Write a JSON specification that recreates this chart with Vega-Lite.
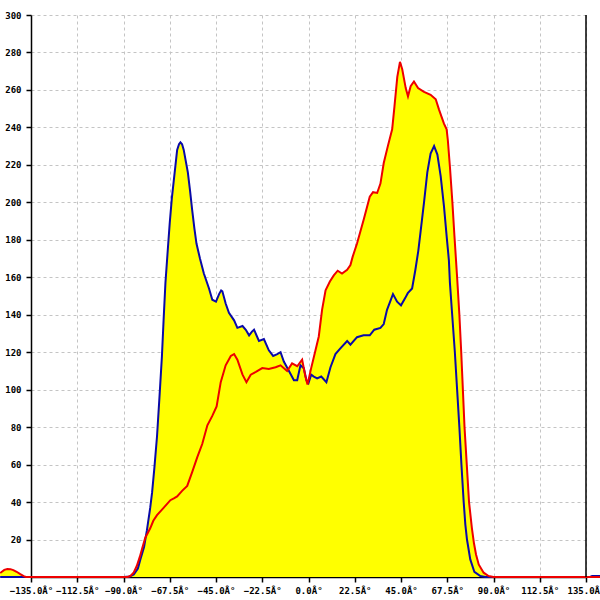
{
  "$schema": "https://vega.github.io/schema/vega-lite/v6.json",
  "width": 555,
  "height": 562,
  "autosize": {"type": "none"},
  "padding": {"left": 31, "top": 15, "right": 14, "bottom": 23},
  "background": "white",
  "config": {
    "view": {"stroke": null},
    "axis": {
      "labelFont": "DejaVu Sans Mono",
      "labelFontSize": 9,
      "labelFontWeight": "bold",
      "labelColor": "black",
      "domainColor": "black",
      "domainWidth": 1.5,
      "tickColor": "black",
      "tickWidth": 1.5,
      "tickSize": 5,
      "gridColor": "#c4c4c4",
      "gridDash": [3, 3],
      "gridWidth": 1,
      "title": null
    }
  },
  "datasets": {
    "blue": [
      {"deg": -150, "count": 0}, {"deg": -90, "count": 0}, {"deg": -87, "count": 0.3},
      {"deg": -85, "count": 1.4}, {"deg": -83, "count": 4.5}, {"deg": -81.8, "count": 9.4},
      {"deg": -80, "count": 16}, {"deg": -78.6, "count": 25}, {"deg": -77, "count": 37},
      {"deg": -76.1, "count": 45}, {"deg": -75, "count": 58}, {"deg": -73.7, "count": 75},
      {"deg": -72.5, "count": 96}, {"deg": -71.3, "count": 118}, {"deg": -70.5, "count": 137},
      {"deg": -69.6, "count": 157}, {"deg": -68.5, "count": 174}, {"deg": -67.5, "count": 189},
      {"deg": -66.5, "count": 202}, {"deg": -65.5, "count": 212}, {"deg": -64.5, "count": 222},
      {"deg": -63.9, "count": 228}, {"deg": -63, "count": 231}, {"deg": -62.3, "count": 232},
      {"deg": -61.5, "count": 231}, {"deg": -60.7, "count": 228}, {"deg": -59.7, "count": 222},
      {"deg": -58.7, "count": 216}, {"deg": -57.6, "count": 206}, {"deg": -56.6, "count": 196},
      {"deg": -55.5, "count": 186}, {"deg": -54.5, "count": 178}, {"deg": -52.8, "count": 170},
      {"deg": -50.9, "count": 162}, {"deg": -48.4, "count": 154}, {"deg": -46.8, "count": 148},
      {"deg": -45, "count": 147}, {"deg": -43.5, "count": 151}, {"deg": -42.5, "count": 153},
      {"deg": -41.9, "count": 152.5}, {"deg": -40.3, "count": 146}, {"deg": -38.7, "count": 141},
      {"deg": -36.2, "count": 137}, {"deg": -34.6, "count": 133}, {"deg": -32.1, "count": 134},
      {"deg": -30.5, "count": 132}, {"deg": -28.9, "count": 129}, {"deg": -27.5, "count": 131},
      {"deg": -26.5, "count": 132}, {"deg": -24.1, "count": 126}, {"deg": -21.7, "count": 127},
      {"deg": -19.3, "count": 121}, {"deg": -17.2, "count": 118}, {"deg": -15.2, "count": 119},
      {"deg": -13.6, "count": 120}, {"deg": -12, "count": 115}, {"deg": -9.5, "count": 110},
      {"deg": -7.1, "count": 105}, {"deg": -5.5, "count": 105}, {"deg": -3.9, "count": 113},
      {"deg": -2.3, "count": 111.5}, {"deg": -1, "count": 105}, {"deg": 0, "count": 103.5},
      {"deg": 1.3, "count": 108}, {"deg": 2.6, "count": 107}, {"deg": 4.2, "count": 106},
      {"deg": 6.2, "count": 107}, {"deg": 8.7, "count": 104}, {"deg": 10.7, "count": 112},
      {"deg": 13.1, "count": 119}, {"deg": 15.5, "count": 122}, {"deg": 18.8, "count": 126},
      {"deg": 20.4, "count": 124}, {"deg": 23.6, "count": 128}, {"deg": 26.8, "count": 129},
      {"deg": 29.8, "count": 129}, {"deg": 32, "count": 132}, {"deg": 35, "count": 133},
      {"deg": 36.6, "count": 135}, {"deg": 38.2, "count": 142.6}, {"deg": 41.1, "count": 151},
      {"deg": 43.1, "count": 147}, {"deg": 45, "count": 145}, {"deg": 47.1, "count": 149},
      {"deg": 48.3, "count": 151.5}, {"deg": 50.4, "count": 154}, {"deg": 52, "count": 164},
      {"deg": 53.4, "count": 174}, {"deg": 54.6, "count": 185}, {"deg": 56.2, "count": 200},
      {"deg": 57.8, "count": 216}, {"deg": 59.4, "count": 226}, {"deg": 61.1, "count": 230},
      {"deg": 62.7, "count": 225.5}, {"deg": 64.3, "count": 214}, {"deg": 65.9, "count": 198},
      {"deg": 67.2, "count": 182}, {"deg": 68.3, "count": 169}, {"deg": 68.8, "count": 157},
      {"deg": 69.9, "count": 140}, {"deg": 71.2, "count": 120}, {"deg": 72.3, "count": 100},
      {"deg": 73.4, "count": 80}, {"deg": 74.4, "count": 60}, {"deg": 75.5, "count": 40},
      {"deg": 76.3, "count": 28}, {"deg": 77.1, "count": 20}, {"deg": 78.7, "count": 9.4},
      {"deg": 80.7, "count": 2.7}, {"deg": 83.6, "count": 0.5}, {"deg": 86, "count": 0},
      {"deg": 137, "count": 0}, {"deg": 138, "count": 0.6}, {"deg": 145, "count": 0.6}
    ],
    "red": [
      {"deg": -150, "count": 2.1}, {"deg": -148, "count": 3.8}, {"deg": -146.5, "count": 4.3},
      {"deg": -145, "count": 4.2}, {"deg": -143.6, "count": 3.7}, {"deg": -142, "count": 2.8},
      {"deg": -140.2, "count": 1.5}, {"deg": -138.5, "count": 0.5}, {"deg": -137.5, "count": 0},
      {"deg": -88, "count": 0}, {"deg": -86.7, "count": 0.5}, {"deg": -85, "count": 2.5},
      {"deg": -83.5, "count": 6}, {"deg": -82, "count": 11}, {"deg": -81, "count": 15},
      {"deg": -79.4, "count": 21}, {"deg": -77, "count": 26}, {"deg": -75.5, "count": 30},
      {"deg": -73.7, "count": 33}, {"deg": -70.4, "count": 37}, {"deg": -67.2, "count": 41},
      {"deg": -65.5, "count": 42}, {"deg": -63.9, "count": 43}, {"deg": -61.5, "count": 46},
      {"deg": -59, "count": 48.6}, {"deg": -56.6, "count": 56}, {"deg": -54.1, "count": 64},
      {"deg": -51.7, "count": 71}, {"deg": -49.2, "count": 81}, {"deg": -46.8, "count": 86},
      {"deg": -44.7, "count": 91}, {"deg": -42.7, "count": 104}, {"deg": -40.3, "count": 113},
      {"deg": -37.8, "count": 118}, {"deg": -36.2, "count": 119}, {"deg": -34.6, "count": 116},
      {"deg": -32.1, "count": 108}, {"deg": -30.2, "count": 104}, {"deg": -28.1, "count": 108},
      {"deg": -25.6, "count": 109.5}, {"deg": -22.5, "count": 111.5}, {"deg": -19.3, "count": 111},
      {"deg": -16, "count": 112}, {"deg": -13.6, "count": 113}, {"deg": -10.4, "count": 110},
      {"deg": -8, "count": 114}, {"deg": -5.5, "count": 112.5}, {"deg": -3.1, "count": 116},
      {"deg": -1.5, "count": 107}, {"deg": -0.5, "count": 102.7}, {"deg": 1.3, "count": 111.5},
      {"deg": 3.4, "count": 121}, {"deg": 5, "count": 128.4}, {"deg": 6.6, "count": 142.6},
      {"deg": 8.3, "count": 153}, {"deg": 10.4, "count": 157.7}, {"deg": 12.3, "count": 161},
      {"deg": 14.2, "count": 163.5}, {"deg": 16.3, "count": 162}, {"deg": 18.8, "count": 164},
      {"deg": 20.4, "count": 166.5}, {"deg": 21.5, "count": 171}, {"deg": 23.6, "count": 178},
      {"deg": 26.9, "count": 191}, {"deg": 29.8, "count": 203}, {"deg": 31.4, "count": 205.4},
      {"deg": 33.4, "count": 205}, {"deg": 35, "count": 210}, {"deg": 36.6, "count": 221},
      {"deg": 38.6, "count": 230}, {"deg": 40.7, "count": 239}, {"deg": 41.8, "count": 251},
      {"deg": 43.2, "count": 267}, {"deg": 44.5, "count": 275}, {"deg": 45.6, "count": 271},
      {"deg": 47.3, "count": 261}, {"deg": 48.4, "count": 256.6}, {"deg": 49.7, "count": 262},
      {"deg": 51.3, "count": 264.5}, {"deg": 53.3, "count": 261}, {"deg": 56.2, "count": 259},
      {"deg": 59.4, "count": 257.4}, {"deg": 61.9, "count": 255}, {"deg": 63.5, "count": 249.5},
      {"deg": 65.9, "count": 242}, {"deg": 67.2, "count": 239}, {"deg": 67.8, "count": 233},
      {"deg": 68.8, "count": 219}, {"deg": 70, "count": 200}, {"deg": 71, "count": 182},
      {"deg": 72.3, "count": 160}, {"deg": 73.4, "count": 140}, {"deg": 74.3, "count": 120},
      {"deg": 75.1, "count": 100}, {"deg": 75.9, "count": 80}, {"deg": 77, "count": 60},
      {"deg": 78.1, "count": 40}, {"deg": 79.5, "count": 26}, {"deg": 80.5, "count": 18},
      {"deg": 81.5, "count": 12}, {"deg": 82.8, "count": 6.7}, {"deg": 85.2, "count": 2.3},
      {"deg": 87.6, "count": 0.5}, {"deg": 90, "count": 0}, {"deg": 145, "count": 0}
    ]
  },
  "encoding": {
    "x": {
      "field": "deg",
      "type": "quantitative",
      "scale": {"domain": [-135, 135], "nice": false, "zero": false},
      "axis": {
        "values": [-135, -112.5, -90, -67.5, -45, -22.5, 0, 22.5, 45, 67.5, 90, 112.5, 135],
        "labelExpr": "format(datum.value, '.1f') + 'Â°'",
        "labelPadding": 4,
        "labelFlush": false,
        "labelOverlap": false
      }
    },
    "y": {
      "field": "count",
      "type": "quantitative",
      "scale": {"domain": [0, 300], "nice": false},
      "axis": {
        "values": [20, 40, 60, 80, 100, 120, 140, 160, 180, 200, 220, 240, 260, 280, 300],
        "labelPadding": 5,
        "labelFlush": false,
        "labelOverlap": false
      }
    }
  },
  "layer": [
    {
      "data": {"name": "blue"},
      "mark": {"type": "area", "color": "#ffff00", "clip": false}
    },
    {
      "data": {"name": "red"},
      "mark": {"type": "area", "color": "#ffff00", "clip": false}
    },
    {
      "data": {"name": "blue"},
      "mark": {"type": "line", "color": "#0a0aa8", "strokeWidth": 2, "clip": false}
    },
    {
      "data": {"name": "red"},
      "mark": {"type": "line", "color": "#ee0000", "strokeWidth": 2, "clip": false}
    },
    {
      "data": {"values": [{"deg": 135}]},
      "mark": {"type": "rule", "color": "black", "strokeWidth": 1.5},
      "encoding": {"x": {"field": "deg", "type": "quantitative"}, "y": null}
    }
  ]
}
